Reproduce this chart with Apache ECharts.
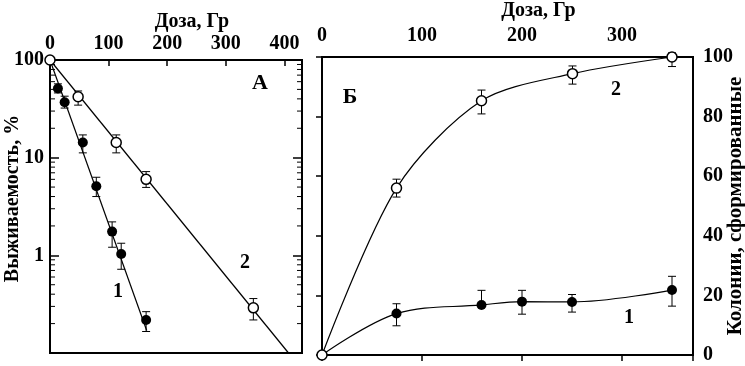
<!DOCTYPE html>
<html>
<head>
<meta charset="utf-8">
<script src="https://cdn.jsdelivr.net/npm/echarts@6/dist/echarts.min.js"></script>
<style>
  html, body { margin: 0; padding: 0; background: #fff; }
  #chart { width: 745px; height: 366px; }
</style>
</head>
<body>
<div id="chart"></div>
<script>
// --- панель А: выживаемость (лог. шкала) ---
var doseA1 = [13.5, 25, 56, 79, 106, 121.5, 164];
var survA1 = [51, 37, 14.3, 5.1, 1.75, 1.03, 0.218];
var errA1Lo = [46, 32.2, 11.2, 4.0, 1.21, 0.72, 0.166];
var errA1Hi = [57, 42.6, 17.1, 6.3, 2.2, 1.33, 0.265];

var doseA2 = [0, 48, 113, 164, 347];
var survA2 = [100, 42, 14.3, 6.0, 0.29];
var errA2Lo = [100, 34.5, 11.2, 4.96, 0.218];
var errA2Hi = [100, 48.2, 17.1, 7.2, 0.361];

// прямые аппроксимации
var fitDose1 = [0, 165];
var fitSurv1 = [100, 0.17];
var fitDose2 = [0, 407];
var fitSurv2 = [100, 0.1];

// --- панель Б: колонии ---
var doseB2 = [0, 74.5, 159.5, 250.5, 350];
var colB2 = [0, 56, 85.3, 94.4, 100];
var errB2Lo = [0, 53, 80.9, 90.9, 96.8];
var errB2Hi = [0, 59, 88.9, 97, 101.4];

var doseB1 = [0, 74.5, 159.5, 200, 250, 350];
var colB1 = [0, 13.9, 16.8, 17.9, 17.8, 21.8];
var errB1Lo = [0, 9.8, 16.8, 13.7, 14.4, 16.4];
var errB1Hi = [0, 17.2, 21.7, 21.7, 20.3, 26.4];

var minorLog = [0.2, 0.3, 0.4, 0.5, 0.6, 0.7, 0.8, 0.9, 2, 3, 4, 5, 6, 7, 8, 9, 20, 30, 40, 50, 60, 70, 80, 90];

var FONT = '"Liberation Serif", "Times New Roman", serif';

var myChart = echarts.init(document.getElementById('chart'));

function zip(xs, ys) { return xs.map(function (x, i) { return [x, ys[i]]; }); }
function zip3(xs, lo, hi) { return xs.map(function (x, i) { return [x, lo[i], hi[i]]; }); }

function errorBarItem(params, api) {
    var p1 = api.coord([api.value(0), api.value(1)]);
    var p2 = api.coord([api.value(0), api.value(2)]);
    var w = 4;
    var st = { stroke: '#000', lineWidth: 1 };
    return {
        type: 'group',
        children: [
            { type: 'line', shape: { x1: p1[0], y1: p1[1], x2: p2[0], y2: p2[1] }, style: st },
            { type: 'line', shape: { x1: p1[0] - w, y1: p1[1], x2: p1[0] + w, y2: p1[1] }, style: st },
            { type: 'line', shape: { x1: p2[0] - w, y1: p2[1], x2: p2[0] + w, y2: p2[1] }, style: st }
        ]
    };
}

function minorTickItem(params, api) {
    var y = api.coord([0, api.value(0)])[1];
    var cs = params.coordSys;
    var st = { stroke: '#000', lineWidth: 1 };
    return {
        type: 'group',
        children: [
            { type: 'line', shape: { x1: cs.x, y1: y, x2: cs.x + 5, y2: y }, style: st },
            { type: 'line', shape: { x1: cs.x + cs.width - 5, y1: y, x2: cs.x + cs.width, y2: y }, style: st }
        ]
    };
}

var labelStyle = { color: '#000', fontFamily: FONT, fontWeight: 'bold', fontSize: 20 };
var nameStyle = { fontFamily: FONT, fontWeight: 'bold', fontSize: 20, color: '#000' };

var option = {
    animation: false,
    textStyle: { fontFamily: FONT, color: '#000' },
    grid: [
        { left: 50, right: 443, top: 60, bottom: 13, outerBoundsMode: 'none', containLabel: false,
          show: true, borderColor: '#000', borderWidth: 2, backgroundColor: 'transparent' },
        { left: 322, right: 52, top: 57, bottom: 11, outerBoundsMode: 'none', containLabel: false,
          show: true, borderColor: '#000', borderWidth: 2, backgroundColor: 'transparent' }
    ],
    xAxis: [
        {
            gridIndex: 0, type: 'value', position: 'top', min: 0, max: 430, interval: 100,
            name: 'Доза, Гр', nameLocation: 'middle', nameGap: 28, nameMoveOverlap: false,
            nameTextStyle: Object.assign({ padding: [0, 0, 0, 32] }, nameStyle),
            axisLine: { show: false },
            axisTick: { inside: true, length: 6, lineStyle: { color: '#000', width: 1.5 } },
            axisLabel: Object.assign({ margin: 6, showMaxLabel: false }, labelStyle),
            splitLine: { show: false }
        },
        {
            gridIndex: 1, type: 'value', position: 'top', min: 0, max: 371, interval: 100,
            name: 'Доза, Гр', nameLocation: 'middle', nameGap: 36, nameMoveOverlap: false,
            nameTextStyle: Object.assign({ padding: [0, 0, 0, 62] }, nameStyle),
            axisLine: { show: false },
            axisTick: { inside: true, length: 6, lineStyle: { color: '#000', width: 1.5 } },
            axisLabel: Object.assign({
                margin: 11,
                formatter: function (v) { return v % 100 === 0 ? String(v) : ''; }
            }, labelStyle),
            splitLine: { show: false }
        }
    ],
    yAxis: [
        {
            gridIndex: 0, type: 'log', logBase: 10, min: 0.1, max: 100, position: 'left',
            name: 'Выживаемость, %', nameLocation: 'middle', nameGap: 27, nameMoveOverlap: false,
            nameTextStyle: Object.assign({ padding: [0, 0, 0, 16] }, nameStyle),
            axisLine: { show: false },
            axisTick: { inside: true, length: 9, lineStyle: { color: '#000', width: 1.5 } },
            axisLabel: Object.assign({
                margin: 6,
                formatter: function (v) { return v >= 1 ? String(Math.round(v)) : ''; }
            }, labelStyle),
            splitLine: { show: false }
        },
        {
            gridIndex: 0, type: 'log', logBase: 10, min: 0.1, max: 100, position: 'right',
            axisLine: { show: false },
            axisTick: { inside: true, length: 9, lineStyle: { color: '#000', width: 1.5 } },
            axisLabel: { show: false },
            splitLine: { show: false }
        },
        {
            gridIndex: 1, type: 'value', min: 0, max: 100, interval: 20, position: 'right',
            name: 'Колонии, сформированные', nameLocation: 'middle', nameGap: 32, nameMoveOverlap: false,
            nameTextStyle: Object.assign({}, nameStyle, { fontSize: 21 }),
            axisLine: { show: false },
            axisTick: { inside: true, length: 6, lineStyle: { color: '#000', width: 1.5 } },
            axisLabel: Object.assign({ margin: 10 }, labelStyle),
            splitLine: { show: false }
        }
    ],
    series: [
        // второстепенные деления лог. шкалы
        {
            type: 'custom', xAxisIndex: 0, yAxisIndex: 0, silent: true,
            data: minorLog.map(function (v) { return [v]; }),
            encode: { y: 0 },
            renderItem: minorTickItem, clip: false
        },
        // А: линии
        {
            type: 'line', xAxisIndex: 0, yAxisIndex: 0, data: zip(fitDose1, fitSurv1),
            showSymbol: false, lineStyle: { color: '#000', width: 1.2 }, clip: false
        },
        {
            type: 'line', xAxisIndex: 0, yAxisIndex: 0, data: zip(fitDose2, fitSurv2),
            showSymbol: false, lineStyle: { color: '#000', width: 1.2 }, clip: false
        },
        // А: погрешности
        {
            type: 'custom', xAxisIndex: 0, yAxisIndex: 0, data: zip3(doseA1, errA1Lo, errA1Hi),
            encode: { x: 0, y: [1, 2] }, renderItem: errorBarItem, clip: false
        },
        {
            type: 'custom', xAxisIndex: 0, yAxisIndex: 0, data: zip3(doseA2, errA2Lo, errA2Hi),
            encode: { x: 0, y: [1, 2] }, renderItem: errorBarItem, clip: false
        },
        // А: точки
        {
            type: 'scatter', xAxisIndex: 0, yAxisIndex: 0, data: zip(doseA1, survA1),
            symbol: 'circle', symbolSize: 10, itemStyle: { color: '#000', opacity: 1 }, clip: false, z: 5
        },
        {
            type: 'scatter', xAxisIndex: 0, yAxisIndex: 0, data: zip(doseA2, survA2),
            symbol: 'circle', symbolSize: 10,
            itemStyle: { color: '#fff', borderColor: '#000', borderWidth: 1.5, opacity: 1 }, clip: false, z: 6
        },
        // Б: погрешности
        {
            type: 'custom', xAxisIndex: 1, yAxisIndex: 2, data: zip3(doseB1, errB1Lo, errB1Hi),
            encode: { x: 0, y: [1, 2] }, renderItem: errorBarItem, clip: false
        },
        {
            type: 'custom', xAxisIndex: 1, yAxisIndex: 2, data: zip3(doseB2, errB2Lo, errB2Hi),
            encode: { x: 0, y: [1, 2] }, renderItem: errorBarItem, clip: false
        },
        // Б: кривые
        {
            type: 'line', xAxisIndex: 1, yAxisIndex: 2, data: zip(doseB1, colB1), smooth: 0.35,
            symbol: 'circle', symbolSize: 10, showAllSymbol: true,
            lineStyle: { color: '#000', width: 1.2 }, itemStyle: { color: '#000' }, clip: false, z: 5
        },
        {
            type: 'line', xAxisIndex: 1, yAxisIndex: 2, data: zip(doseB2, colB2), smooth: 0.3,
            symbol: 'circle', symbolSize: 10, showAllSymbol: true,
            lineStyle: { color: '#000', width: 1.2 },
            itemStyle: { color: '#fff', borderColor: '#000', borderWidth: 1.5 }, clip: false, z: 6
        }
    ],
    graphic: [
        { type: 'text', x: 260, y: 83, style: { text: 'А', fontFamily: FONT, fontWeight: 'bold', fontSize: 22, fill: '#000', textAlign: 'center', textVerticalAlign: 'middle' } },
        { type: 'text', x: 245, y: 263, style: { text: '2', fontFamily: FONT, fontWeight: 'bold', fontSize: 20, fill: '#000', textAlign: 'center', textVerticalAlign: 'middle' } },
        { type: 'text', x: 118, y: 292, style: { text: '1', fontFamily: FONT, fontWeight: 'bold', fontSize: 20, fill: '#000', textAlign: 'center', textVerticalAlign: 'middle' } },
        { type: 'text', x: 350, y: 97, style: { text: 'Б', fontFamily: FONT, fontWeight: 'bold', fontSize: 22, fill: '#000', textAlign: 'center', textVerticalAlign: 'middle' } },
        { type: 'text', x: 616, y: 90, style: { text: '2', fontFamily: FONT, fontWeight: 'bold', fontSize: 20, fill: '#000', textAlign: 'center', textVerticalAlign: 'middle' } },
        { type: 'text', x: 629, y: 318, style: { text: '1', fontFamily: FONT, fontWeight: 'bold', fontSize: 20, fill: '#000', textAlign: 'center', textVerticalAlign: 'middle' } }
    ]
};

myChart.setOption(option);

window.onresize = function () {
    myChart.resize();
};
</script>
</body>
</html>
